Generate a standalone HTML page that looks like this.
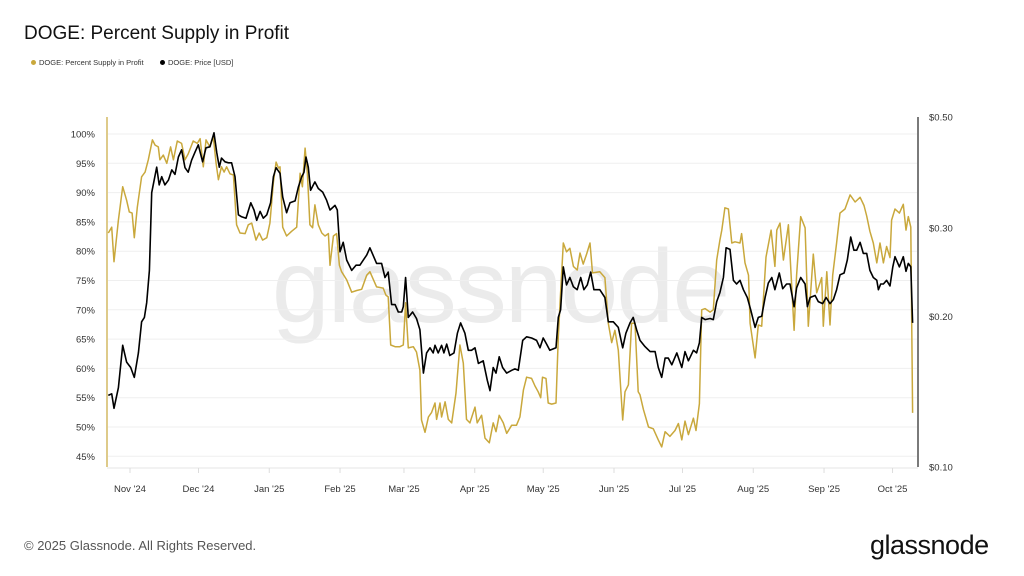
<!DOCTYPE html>
<html><head><meta charset="utf-8"><style>
body{margin:0;width:1024px;height:576px;background:#fff;font-family:"Liberation Sans",sans-serif;overflow:hidden;position:relative}
.t{position:absolute;white-space:nowrap}
</style></head><body>
<div class="t" style="left:24px;top:23px;font-size:19px;color:#111">DOGE: Percent Supply in Profit</div>
<div class="t" style="left:31px;top:58px;font-size:7.5px;color:#333"><span style="display:inline-block;width:5px;height:5px;border-radius:50%;background:#c9a83c;margin-right:3px"></span>DOGE: Percent Supply in Profit</div>
<div class="t" style="left:160px;top:58px;font-size:7.5px;color:#333"><span style="display:inline-block;width:5px;height:5px;border-radius:50%;background:#000;margin-right:3px"></span>DOGE: Price [USD]</div>
<div class="t" style="left:24px;top:538px;font-size:13px;color:#555">© 2025 Glassnode. All Rights Reserved.</div>
<div class="t" style="left:870px;top:530px;font-size:27px;color:#111;letter-spacing:-0.5px">glassnode</div>
<svg id="c" width="1024" height="576" style="position:absolute;left:0;top:0"></svg>
<script>
const pctTicks=[100,95,90,85,80,75,70,65,60,55,50,45];
const priceTicks=[0.5,0.3,0.2,0.1];
const priceTickLabels=["$0.50","$0.30","$0.20","$0.10"];
const monthDays=[0,30,61,92,120,151,181,212,242,273,304,334];
const monthLabels=["Nov '24","Dec '24","Jan '25","Feb '25","Mar '25","Apr '25","May '25","Jun '25","Jul '25","Aug '25","Sep '25","Oct '25"];
const supplyDays=[-9.5,-8,-7,-5.1,-3.2,-1.5,-0.3,0.9,1.9,3.2,5.1,6.6,8,9.8,11,12.4,13.1,14.6,16.1,17.8,19,20.7,22.6,24.1,25.5,27.7,29.5,30.7,32.1,33.3,35,36.5,37.7,38.7,40.1,41.2,42.3,43.8,45.3,46.7,48.2,50.4,51.8,53.3,55.2,56.6,58.1,59.9,61.3,62.8,64,65,65.7,66.9,68.6,70.8,73,74.5,75.5,76.7,77.7,78.8,80,81,82.5,84,85.4,86.9,87.6,89.1,90.5,91.7,92.7,94.9,97.1,99.3,101.5,103.7,
105.1,108,110.9,112.1,113.1,114.2,116.1,118.2,119.7,120.7,121.9,124.1,125.5,127,127.7,129.2,130.7,132.1,133.6,134.3,135.8,136.5,138,139.4,140.9,142.8,144.5,146,147.4,148.9,151.1,152.1,154,155.5,157.4,159.1,160.3,161.7,163.5,165,167.2,169.3,170.8,172.3,173.7,175.9,177.4,178.8,179.9,180.7,182.2,183.2,184.7,186.6,187.6,188.6,189.8,191.2,192.7,194.2,195.9,197.1,198.5,200,201.5,202.6,205.8,208,209.5,211,212.4,213.9,215.8,216.8,218.3,219.7,221.2,222.6,
223.4,224.9,227.1,229.2,231.4,232.9,234.4,236.5,238.7,240.2,241.7,243.1,244.6,246.8,247.9,249.4,250.4,251.9,254.1,255.5,257,258.4,259.2,260.6,262.1,263.6,265,267.2,267.9,269.4,270.9,271.6,273.8,275.2,276.7,278.6,280.8,282.5,283.3,284.7,286.2,288.4,290.9,292,293.8,295.7,297.1,299.3,300.8,303,303.7,305.2,306.6,307.8,309.5,311,313.2,315.4,317.6,319.8,321.5,322.7,324.1,325.6,327.1,328.5,330,331.4,332.9,333.6,335.1,337,338.7,339.9,340.9,342,342.8];
const supplyVals=[83.1,84.1,78.2,85.3,91,88.7,86.7,86.5,82.3,87.5,92.7,93.5,95.6,99,98.1,97.8,95.6,96.4,95,97.8,95.6,98.8,98.4,95.6,96.6,98.8,98.4,99.2,94.4,99,97.8,99.5,95,92.2,94.4,93.5,94.4,93.2,93,84.5,83.1,83,84.5,84.8,81.9,83.1,81.9,82.3,84.8,91.8,95.2,94.2,94.4,84.1,82.6,83.4,84.1,93.3,91,97.6,93.2,84.5,84,87.9,84.5,83.1,82.6,83,77.6,82.6,83,77.6,76.5,75.1,73,73.3,73.5,75.9,
76.5,73.9,73.7,72.5,72.2,64,63.7,63.7,64,71.2,63.5,63.7,62.8,59.7,51.2,49.1,51.7,52.5,54.1,51.3,54.1,51.7,54.3,51.3,50.7,55.8,64,60.9,51.3,50.7,53.4,50.7,52,48.1,47.3,50.7,49.2,52,50.7,48.9,50.3,50.3,51.7,56.3,58.5,58.3,57,56,55,58.5,58.3,54.1,53.9,54.1,65.4,72.9,81.4,79.9,80.5,77.4,76.8,79.7,77.8,79.5,81.4,76.3,76.5,75.5,67.7,64.4,66.5,63.1,51.2,56,57.2,67.7,67.7,56,
55.5,53,50,49.7,47.8,46.6,49.2,48.4,49.4,50.6,47.8,51,48.7,51.5,49.4,54,70,70.2,69.6,70,78.5,81.9,83.6,87.4,87.2,81.4,81.6,81.4,83,78,75.9,67.7,61.8,67.4,67.2,79,83.6,77.4,83.6,84.8,78.5,84.5,66.5,75.9,85.9,84,67.2,79.5,72.9,75.5,67.2,76.5,67.4,75.9,81.4,86.5,87.2,89.6,88.4,89.2,87.8,86,83.4,81.4,78,81.4,78,80.8,78.9,85.3,87.2,86.5,88,83.6,85.9,84.1,52.4];
const priceDays=[-9.5,-8,-7,-5.1,-3.2,-1.5,0.3,1.9,3.7,5.1,6.3,7.3,8.5,9.5,11.7,12.8,13.9,15.3,16.8,18.3,19.7,21.2,22.6,24.1,25.5,27,28.5,29.9,31.8,33.3,35,36.8,38,39.1,40.1,41.6,43.1,44.5,46,47.5,48.9,50.8,52.9,54.3,55.5,57,58.4,59.9,61.6,62.8,64,65.7,66.9,68.6,70.1,72.3,73.7,75.2,76.2,77.1,78.1,79.1,81,82.5,84.4,86.1,87.6,89.8,90.8,92,93.4,94.9,97.1,99,100.7,102.2,103.7,
105.1,108,110.2,111.7,113.1,114.6,116.1,117.5,119,119.7,120.7,121.9,123.8,125.5,127,128.5,129.9,131.4,132.8,133.6,135,136.5,137.5,138.7,140.1,141.9,143.4,144.8,146.7,148.2,149.6,151.1,152.6,154.7,156.5,157.7,159.1,160.3,161.7,163.2,165,167.2,168.6,170.1,172,173.7,175.9,178.1,179.6,181,182.5,183.9,186.6,187.6,188.6,189.8,191.2,192.7,194.2,195.9,197.4,198.8,200.3,201.8,203.2,205.8,208,209.5,211.7,213.9,215.8,217.2,219,220.4,221.9,
223.4,225.6,227.8,230,231.4,232.9,234.4,235.8,237.3,239.5,241.7,243.1,244.6,246.8,248.2,249.4,250.4,251.9,254.1,255.5,257,258.4,259.9,261.1,262.8,264.3,265.7,267.2,268.7,270.4,271.9,273.8,275.2,276.7,278.2,279.6,281.1,282.5,284.4,285.9,287.6,289.1,290.9,292,293.8,295.7,296.7,297.9,300.1,301.5,303.4,304.9,306.6,308.1,309.5,311,312.8,314.2,315.7,317.1,318.3,319.8,321.2,322.7,324.1,325.6,327.1,327.8,328.8,330,331.4,332.9,334.1,335.1,337,338.7,339.9,340.9,342,342.8];
const priceVals=[0.139,0.140,0.131,0.144,0.175,0.162,0.158,0.151,0.169,0.195,0.199,0.213,0.247,0.353,0.397,0.366,0.380,0.366,0.374,0.392,0.384,0.416,0.430,0.396,0.388,0.410,0.426,0.440,0.407,0.434,0.436,0.465,0.424,0.397,0.414,0.407,0.405,0.405,0.380,0.319,0.316,0.314,0.337,0.326,0.311,0.324,0.314,0.319,0.337,0.380,0.396,0.386,0.346,0.322,0.337,0.340,0.362,0.380,0.388,0.416,0.397,0.357,0.371,0.360,0.354,0.341,0.326,0.333,0.326,0.269,0.281,0.259,0.247,0.253,0.253,0.259,0.265,
0.274,0.255,0.255,0.239,0.245,0.211,0.211,0.204,0.204,0.209,0.239,0.199,0.204,0.198,0.188,0.154,0.169,0.173,0.169,0.175,0.169,0.175,0.169,0.176,0.167,0.169,0.185,0.194,0.185,0.171,0.171,0.173,0.161,0.163,0.149,0.142,0.158,0.154,0.166,0.158,0.154,0.156,0.157,0.156,0.179,0.182,0.181,0.179,0.173,0.181,0.176,0.171,0.173,0.199,0.206,0.251,0.231,0.239,0.229,0.226,0.239,0.226,0.231,0.245,0.226,0.226,0.218,0.195,0.195,0.190,0.173,0.185,0.194,0.199,0.188,
0.179,0.174,0.170,0.170,0.158,0.151,0.165,0.165,0.160,0.169,0.158,0.170,0.163,0.171,0.169,0.177,0.199,0.197,0.198,0.197,0.214,0.223,0.239,0.274,0.272,0.236,0.232,0.236,0.226,0.218,0.206,0.190,0.199,0.200,0.218,0.233,0.239,0.226,0.244,0.227,0.232,0.232,0.209,0.228,0.239,0.232,0.209,0.218,0.220,0.214,0.212,0.218,0.212,0.216,0.226,0.242,0.244,0.259,0.288,0.271,0.271,0.281,0.267,0.267,0.247,0.239,0.236,0.226,0.232,0.232,0.236,0.230,0.251,0.263,0.251,0.263,0.246,0.255,0.251,0.194];

const NS="http://www.w3.org/2000/svg";
const svg=document.getElementById('c');
const xS=d=>130+d*2.283;
const yP=v=>134+(100-v)*5.86;
const yL=p=>467-Math.log10(p/0.1)*500.7;
function mk(tag,attrs){const e=document.createElementNS(NS,tag);for(const k in attrs)e.setAttribute(k,attrs[k]);svg.appendChild(e);return e;}
let wm=mk('text',{x:500,y:322,'text-anchor':'middle','font-size':104,fill:'#ebebeb','font-family':'Liberation Sans, sans-serif','letter-spacing':'-2'});
wm.textContent='glassnode';


pctTicks.forEach(v=>{
  const g=mk('line',{x1:108,x2:917,y1:yP(v),y2:yP(v),stroke:'#efefef','stroke-width':1});
  
  
  const t=mk('text',{x:95,y:yP(v)+3.5,'text-anchor':'end','font-size':9.5,fill:'#333','font-family':'Liberation Sans, sans-serif'});
  t.textContent=v+'%';
  
  
});
priceTicks.forEach((p,i)=>{
  const t=mk('text',{x:929,y:yL(p)+3.5,'font-size':9.5,fill:'#333','font-family':'Liberation Sans, sans-serif'});
  t.textContent=priceTickLabels[i];
  
  
});
let ax=mk('line',{x1:107,x2:918,y1:468,y2:468,stroke:'#e4e4e4','stroke-width':1});


monthDays.forEach((d,i)=>{
  const tk=mk('line',{x1:xS(d),x2:xS(d),y1:468,y2:473,stroke:'#ddd','stroke-width':1});
  
  
  const t=mk('text',{x:xS(d),y:492,'text-anchor':'middle','font-size':9.5,fill:'#333','font-family':'Liberation Sans, sans-serif'});
  t.textContent=monthLabels[i];
  
  
});
let la=mk('line',{x1:107,x2:107,y1:117,y2:467,stroke:'#c9a83c','stroke-width':1.2});


let ra=mk('line',{x1:918,x2:918,y1:117,y2:467,stroke:'#222','stroke-width':1.2});


function path(days,vals,ys){let n=Math.min(days.length,vals.length),s='';for(let i=0;i<n;i++)s+=(i?'L':'M')+xS(days[i]).toFixed(1)+','+ys(vals[i]).toFixed(1);return s;}
let sp=mk('path',{d:path(supplyDays,supplyVals,yP),fill:'none',stroke:'#c9a83c','stroke-width':1.5,'stroke-linejoin':'round'});


let pp=mk('path',{d:path(priceDays,priceVals,yL),fill:'none',stroke:'#000','stroke-width':1.6,'stroke-linejoin':'round'});


</script>
</body></html>
